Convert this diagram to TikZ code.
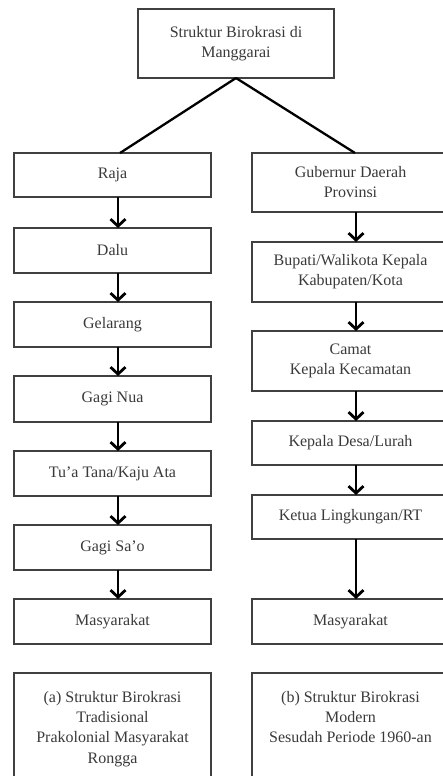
\documentclass[tikz,border=0pt]{standalone}
\usepackage{fontspec}
\setmainfont{Liberation Serif}
\usetikzlibrary{arrows.meta}
\definecolor{boxline}{HTML}{404040}
\definecolor{txt}{HTML}{3a3a3a}
\begin{document}
\begin{tikzpicture}[x=1pt,y=-1pt,
  bx/.style={draw=boxline,line width=1.2pt,inner sep=0pt,outer sep=0pt,
    minimum width=197pt,align=center,text=txt,
    font=\fontsize{16}{20}\selectfont},
  conn/.style={line width=2.3pt,black},
  arr/.style={line width=2.3pt,black,-{Straight Barb[length=7pt,width=15pt,line width=2.8pt]}}]
\useasboundingbox (0,0) rectangle (443,776);
\clip (0,0) rectangle (443,776);
\fill[white] (0,0) rectangle (443,776);
\coordinate (ax) at (118,0);
\coordinate (bx) at (356,0);
% top
\node[bx,minimum width=196pt,minimum height=69pt] (top) at (236,43.5) {Struktur Birokrasi di\\Manggarai};
% left column
\node[bx,minimum height=44pt] (raja) at (112.5,175) {Raja};
\node[bx,minimum height=45pt] (dalu) at (112.5,250.5) {Dalu};
\node[bx,minimum height=45pt] (gel) at (112.5,324.5) {Gelarang};
\node[bx,minimum height=46pt] (gnua) at (112.5,399) {Gagi Nua};
\node[bx,minimum height=45pt] (tua) at (112.5,473.5) {Tu'a Tana/Kaju Ata};
\node[bx,minimum height=45pt] (gsao) at (112.5,547.5) {Gagi Sa'o};
\node[bx,minimum height=45pt] (masa) at (112.5,621.5) {Masyarakat};
\node[bx,anchor=north,minimum height=120pt] (capa) at (112.5,673)
  {\parbox[t][110pt][t]{190pt}{\centering\vspace*{13pt}(a) Struktur Birokrasi\\Tradisional\\Prakolonial Masyarakat\\[1pt]Rongga}};
% right column
\node[bx,minimum height=59pt] (gub) at (350.5,182.5) {Gubernur Daerah\\Provinsi};
\node[bx,minimum height=60pt] (bup) at (350.5,272) {Bupati/Walikota Kepala\\Kabupaten/Kota};
\node[bx,minimum height=60pt] (cam) at (350.5,361) {Camat\\Kepala Kecamatan};
\node[bx,minimum height=44pt] (desa) at (350.5,443) {Kepala Desa/Lurah};
\node[bx,minimum height=44pt] (ket) at (350.5,517) {Ketua Lingkungan/RT};
\node[bx,minimum height=45pt] (masb) at (350.5,621.5) {Masyarakat};
\node[bx,anchor=north,minimum height=120pt] (capb) at (350.5,673)
  {\parbox[t][110pt][t]{190pt}{\centering\vspace*{13pt}(b) Struktur Birokrasi\\Modern\\Sesudah Periode 1960-an}};
% connectors
\draw[conn] (top.south) -- (raja.north -| 120,0);
\draw[conn] (top.south) -- (gub.north -| 355,0);
\draw[arr] (raja.south -| ax) -- (dalu.north -| ax);
\draw[arr] (dalu.south -| ax) -- (gel.north -| ax);
\draw[arr] (gel.south -| ax) -- (gnua.north -| ax);
\draw[arr] (gnua.south -| ax) -- (tua.north -| ax);
\draw[arr] (tua.south -| ax) -- (gsao.north -| ax);
\draw[arr] (gsao.south -| ax) -- (masa.north -| ax);
\draw[arr] (gub.south -| bx) -- (bup.north -| bx);
\draw[arr] (bup.south -| bx) -- (cam.north -| bx);
\draw[arr] (cam.south -| bx) -- (desa.north -| bx);
\draw[arr] (desa.south -| bx) -- (ket.north -| bx);
\draw[arr] (ket.south -| bx) -- (masb.north -| bx);
\end{tikzpicture}
\end{document}
